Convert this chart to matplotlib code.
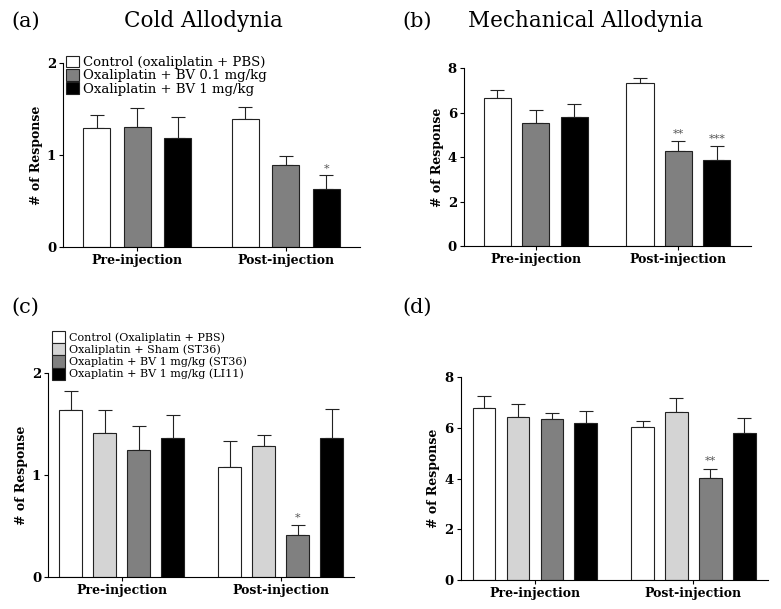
import numpy as np
import matplotlib.pyplot as plt
from matplotlib.patches import Patch

plt.rcParams['font.family'] = 'DejaVu Serif'

groups = ['Pre-injection', 'Post-injection']

# (a) cold allodynia
a_labels = ['Control (oxaliplatin + PBS)', 'Oxaliplatin + BV 0.1 mg/kg', 'Oxaliplatin + BV 1 mg/kg']
a_mean = [[1.29, 1.30, 1.19], [1.39, 0.89, 0.63]]
a_sem = [[0.14, 0.21, 0.22], [0.13, 0.10, 0.15]]
a_stars = [['', '', ''], ['', '', '*']]

# (b) mechanical allodynia
b_mean = [[6.65, 5.53, 5.78], [7.31, 4.26, 3.86]]
b_sem = [[0.35, 0.57, 0.59], [0.26, 0.44, 0.63]]
b_stars = [['', '', ''], ['', '**', '***']]

# (c) cold allodynia, acupoints
c_labels = ['Control (Oxaliplatin + PBS)', 'Oxaliplatin + Sham (ST36)',
            'Oxaplatin + BV 1 mg/kg (ST36)', 'Oxaplatin + BV 1 mg/kg (LI11)']
c_mean = [[1.64, 1.415, 1.25, 1.36], [1.08, 1.28, 0.415, 1.36]]
c_sem = [[0.18, 0.22, 0.23, 0.23], [0.25, 0.11, 0.095, 0.29]]
c_stars = [['', '', '', ''], ['', '', '*', '']]

# (d) mechanical allodynia, acupoints
d_mean = [[6.77, 6.43, 6.36, 6.19], [6.03, 6.62, 4.03, 5.78]]
d_sem = [[0.47, 0.49, 0.24, 0.47], [0.25, 0.54, 0.36, 0.59]]
d_stars = [['', '', '', ''], ['', '', '**', '']]

colors3 = ['white', '#808080', 'black']
colors4 = ['white', '#d4d4d4', '#808080', 'black']


def draw(ax, means, sems, stars, colors, step, width, yticks, xlim, star_off):
    n = len(colors)
    for g in range(len(groups)):
        for i in range(n):
            x = g + (i - (n - 1) / 2) * step
            ax.bar(x, means[g][i], width, color=colors[i], edgecolor='#222222',
                   linewidth=0.8, zorder=2)
            ax.errorbar(x, means[g][i], yerr=[[0], [sems[g][i]]], fmt='none',
                        ecolor='#222222', elinewidth=0.8, capsize=5, capthick=0.8,
                        zorder=1)
            if stars[g][i]:
                ax.text(x, means[g][i] + sems[g][i] + star_off, stars[g][i],
                        ha='center', va='bottom', fontsize=8, color='#555555')
    ax.set_xlim(*xlim)
    ax.set_ylim(0, yticks[-1])
    ax.set_xticks([0, 1])
    ax.set_xticklabels(groups, fontsize=9, fontweight='bold')
    ax.set_yticks(yticks)
    ax.set_yticklabels([str(t) for t in yticks], fontsize=9.5, fontweight='bold')
    ax.set_ylabel('# of Response', fontsize=9, fontweight='bold', labelpad=3)
    ax.spines['top'].set_visible(False)
    ax.spines['right'].set_visible(False)
    ax.tick_params(length=3, width=0.8, pad=2)
    ax.spines['left'].set_linewidth(0.8)
    ax.spines['bottom'].set_linewidth(0.8)


fig = plt.figure(figsize=(7.81, 6.09), dpi=100)

ax_a = fig.add_axes([0.0807, 0.5944, 0.3803, 0.3022])
ax_b = fig.add_axes([0.594, 0.596, 0.3676, 0.2923])
ax_c = fig.add_axes([0.0615, 0.0525, 0.3918, 0.335])
ax_d = fig.add_axes([0.590, 0.0476, 0.3931, 0.3333])

draw(ax_a, a_mean, a_sem, a_stars, colors3, 0.272, 0.183, [0, 1, 2], (-0.5, 1.5), 0.02)
draw(ax_b, b_mean, b_sem, b_stars, colors3, 0.27, 0.19, [0, 2, 4, 6, 8], (-0.505, 1.509), 0.1)
draw(ax_c, c_mean, c_sem, c_stars, colors4, 0.214, 0.145, [0, 1, 2], (-0.464, 1.46), 0.02)
draw(ax_d, d_mean, d_sem, d_stars, colors4, 0.214, 0.142, [0, 2, 4, 6, 8], (-0.467, 1.469), 0.1)

handles_a = [Patch(facecolor=c, edgecolor='#222222', linewidth=0.8) for c in colors3]
ax_a.legend(handles_a, a_labels, loc='upper left', bbox_to_anchor=(0.01, 1.04),
            frameon=False, fontsize=9.5, handlelength=1.0, handleheight=1.0,
            handletextpad=0.3, labelspacing=0.0, borderpad=0, borderaxespad=0)

handles_c = [Patch(facecolor=c, edgecolor='#222222', linewidth=0.8) for c in colors4]
ax_c.legend(handles_c, c_labels, loc='upper left', bbox_to_anchor=(0.012, 1.205),
            frameon=False, fontsize=8, handlelength=1.2, handleheight=1.3,
            handletextpad=0.35, labelspacing=0.0, borderpad=0, borderaxespad=0)

fig.text(0.015, 0.965, '(a)', fontsize=15, va='center')
fig.text(0.26, 0.965, 'Cold Allodynia', fontsize=15.5, ha='center', va='center')
fig.text(0.515, 0.965, '(b)', fontsize=15, va='center')
fig.text(0.75, 0.965, 'Mechanical Allodynia', fontsize=15.5, ha='center', va='center')
fig.text(0.015, 0.495, '(c)', fontsize=15, va='center')
fig.text(0.515, 0.495, '(d)', fontsize=15, va='center')

fig.savefig('out.png', dpi=100)
